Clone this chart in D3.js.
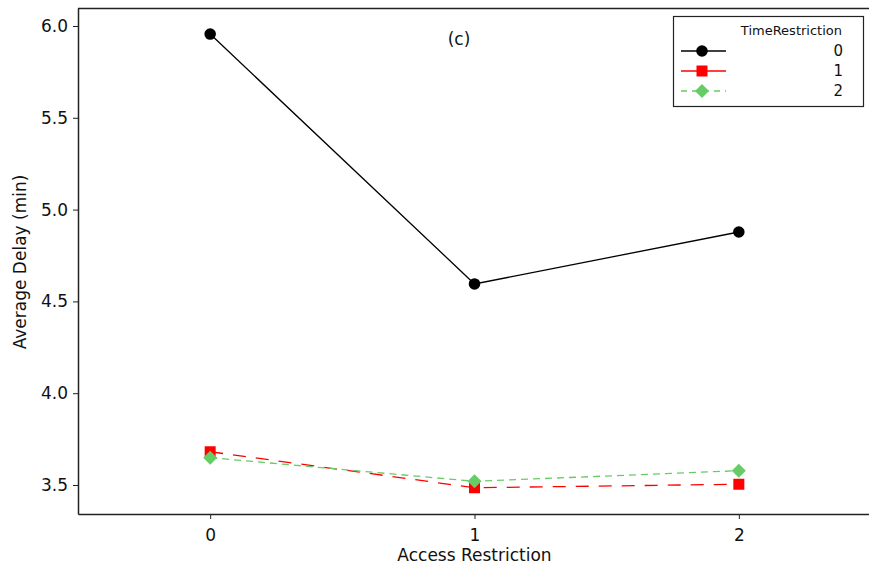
<!DOCTYPE html>
<html>
<head>
<meta charset="utf-8">
<script src="https://cdn.jsdelivr.net/npm/d3@7"></script>
<style>
  body { margin: 0; background: #fff; }
  svg { display: block; font-family: "DejaVu Sans", Verdana, sans-serif; }
</style>
</head>
<body>
<div id="chart"></div>
<script>
// access restriction levels (x)
var accessLevels = [0, 1, 2];
// average delay per time restriction level
var delay0 = [5.956, 4.595, 4.878];
var delay1 = [3.681, 3.485, 3.504];
var delay2 = [3.649, 3.520, 3.578];
var seriesNames = ["0", "1", "2"];
var yTicks = [3.5, 4.0, 4.5, 5.0, 5.5, 6.0];

var width = 869, height = 571;
var margin = { left: 78, top: 8, right: -2, bottom: 57 };

var svg = d3.select("#chart").append("svg")
  .attr("width", width).attr("height", height);

var x = d3.scaleLinear().domain([-0.5, 2.5])
  .range([margin.left, width - margin.right]);
var y = d3.scaleLinear().domain([3.342, 6.098])
  .range([height - margin.bottom, margin.top]);

// top edge of the frame
svg.append("line")
  .attr("x1", margin.left).attr("x2", width)
  .attr("y1", margin.top + 0.5).attr("y2", margin.top + 0.5)
  .attr("stroke", "#222").attr("stroke-width", 1.5);

var xAxis = svg.append("g")
  .attr("transform", "translate(0," + (height - margin.bottom) + ")")
  .call(d3.axisBottom(x).tickValues(accessLevels).tickFormat(d3.format("d")).tickSize(5).tickSizeOuter(0));
var yAxis = svg.append("g")
  .attr("transform", "translate(" + margin.left + ",0)")
  .call(d3.axisLeft(y).tickValues(yTicks).tickFormat(d3.format(".1f")).tickSize(5).tickSizeOuter(0));

[xAxis, yAxis].forEach(function(a) {
  a.select(".domain").attr("stroke", "#222").attr("stroke-width", 1.5);
  a.selectAll(".tick line").attr("stroke", "#222");
  a.selectAll("text").attr("font-size", 17).attr("fill", "#111")
    .attr("font-family", "DejaVu Sans, Verdana, sans-serif");
});
xAxis.selectAll("text").attr("dy", "1.1em");
yAxis.selectAll("text").attr("x", -10);

svg.append("text")
  .attr("x", x(1) + 0).attr("y", 561)
  .attr("text-anchor", "middle").attr("font-size", 17).attr("fill", "#111")
  .text("Access Restriction");
svg.append("text")
  .attr("transform", "translate(26," + 262 + ") rotate(-90)")
  .attr("text-anchor", "middle").attr("font-size", 17).attr("fill", "#111")
  .text("Average Delay (min)");
svg.append("text")
  .attr("x", 459).attr("y", 45)
  .attr("text-anchor", "middle").attr("font-size", 17).attr("fill", "#111")
  .text("(c)");

// diamond: square turned by 45 degrees
var diamond = {
  draw: function(ctx, size) {
    var r = Math.sqrt(size / 2);
    ctx.moveTo(0, -r); ctx.lineTo(r, 0); ctx.lineTo(0, r); ctx.lineTo(-r, 0); ctx.closePath();
  }
};

var series = [
  { name: seriesNames[0], values: delay0, color: "#000", dash: null, shape: d3.symbolCircle, size: 105 },
  { name: seriesNames[1], values: delay1, color: "#ff0000", dash: "13,10", shape: d3.symbolSquare, size: 121 },
  { name: seriesNames[2], values: delay2, color: "#66cc66", dash: "7,5", shape: diamond, size: 98 }
];

var line = d3.line()
  .x(function(d, i) { return x(accessLevels[i]); })
  .y(function(d) { return y(d); });

series.forEach(function(s) {
  svg.append("path")
    .attr("d", line(s.values))
    .attr("fill", "none")
    .attr("stroke", s.color)
    .attr("stroke-width", 1.3)
    .attr("stroke-dasharray", s.dash);
  svg.selectAll(null)
    .data(s.values)
    .enter()
    .append("path")
    .attr("d", d3.symbol().type(s.shape).size(s.size))
    .attr("transform", function(d, i) {
      return "translate(" + x(accessLevels[i]) + "," + y(d) + ")";
    })
    .attr("fill", s.color);
});

// legend
var lg = svg.append("g");
lg.append("rect")
  .attr("x", 673.5).attr("y", 16.5).attr("width", 190).attr("height", 90)
  .attr("fill", "#fff").attr("stroke", "#222").attr("stroke-width", 1.2);
lg.append("text")
  .attr("x", 842).attr("y", 35).attr("text-anchor", "end")
  .attr("font-size", 13).attr("fill", "#111")
  .text("TimeRestriction");
series.forEach(function(s, i) {
  var ly = 51 + i * 20;
  lg.append("line")
    .attr("x1", 681).attr("x2", 726).attr("y1", ly).attr("y2", ly)
    .attr("stroke", s.color).attr("stroke-width", 1.3)
    .attr("stroke-dasharray", s.dash ? (i == 1 ? null : "6,5") : null);
  lg.append("path")
    .attr("d", d3.symbol().type(s.shape).size(s.size))
    .attr("transform", "translate(702," + ly + ")")
    .attr("fill", s.color);
  lg.append("text")
    .attr("x", 843).attr("y", ly + 5).attr("text-anchor", "end")
    .attr("font-size", 15).attr("fill", "#111")
    .text(s.name);
});
</script>
</body>
</html>
